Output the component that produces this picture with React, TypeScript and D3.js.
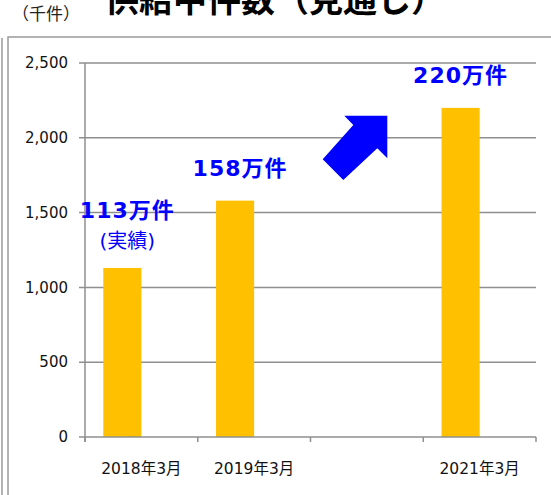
import React from "react";
import * as d3 from "d3";

const categories = ["2018年3月", "2019年3月", "", "2021年3月"];
const values: (number | null)[] = [1130, 1580, null, 2200];
const valueLabels = ["113万件", "158万件", "", "220万件"];
const yTicks = [0, 500, 1000, 1500, 2000, 2500];
const title = "供給中件数（見通し）";
const unitLabel = "（千件）";

const W = 551;
const H = 495;
const plot = { left: 85, right: 536, top: 63, bottom: 437 };
const font = "'DejaVu Sans', 'Noto Sans CJK JP', sans-serif";
const cjk = "'Noto Sans CJK JP', 'DejaVu Sans', sans-serif";
const gridColor = "#8f8f8f";
const blue = "#0000FF";
const barColor = "#FFC000";

export default function App() {
  const x = d3
    .scaleBand<number>()
    .domain(d3.range(categories.length))
    .range([plot.left, plot.right])
    .paddingInner(0)
    .paddingOuter(0);
  // clustered layout with an empty second series slot
  const inner = d3
    .scaleBand<number>()
    .domain([0, 1])
    .range([0, x.bandwidth()])
    .paddingInner(0)
    .paddingOuter(0.48);
  const y = d3.scaleLinear().domain([0, 2500]).range([plot.bottom, plot.top]);
  const fmt = d3.format(",");

  const arrow = "M387.3,115.7 L344.3,115.7 L353.3,125 L322.7,159.3 L343.3,180 L377.3,148.3 L387.3,158.3 Z";
  const barCenter = (i: number) =>
    (x(i) as number) + (inner(0) as number) + inner.bandwidth() / 2;

  return (
    <svg
      width={W}
      height={H}
      style={{ position: "absolute", left: 0, top: 0 }}
    >
      <rect x={0} y={0} width={W} height={H} fill="#fff" />
      {/* frames */}
      <line x1={2} y1={38} x2={2} y2={H} stroke="#999" strokeWidth={1.5} />
      <rect
        x={8}
        y={37}
        width={W}
        height={H}
        fill="none"
        stroke="#999"
        strokeWidth={1.5}
      />
      {/* title */}
      <text
        x={105}
        y={12}
        fontFamily={cjk}
        fontWeight="bold"
        fontSize={34}
        fill="#000"
      >
        {title}
      </text>
      <text x={12} y={20} fontFamily={cjk} fontSize={17} fill="#222">
        {unitLabel}
      </text>

      {/* gridlines */}
      {yTicks.map((t) => (
        <g key={t}>
          <line
            x1={plot.left - 6}
            x2={t === 0 ? plot.left : plot.right}
            y1={y(t)}
            y2={y(t)}
            stroke={gridColor}
            strokeWidth={1.5}
          />
          <text
            x={68}
            y={y(t)}
            dy="0.35em"
            textAnchor="end"
            fontFamily={font}
            fontSize={15}
            fill="#111"
          >
            {fmt(t)}
          </text>
        </g>
      ))}
      {/* bars */}
      {values.map((v, i) =>
        v == null ? null : (
          <rect
            key={i}
            x={(x(i) as number) + (inner(0) as number)}
            y={y(v)}
            width={inner.bandwidth()}
            height={y(0) - y(v)}
            fill={barColor}
          />
        )
      )}
      {/* axes */}
      <line
        x1={plot.left}
        x2={plot.left}
        y1={plot.top}
        y2={plot.bottom + 5}
        stroke={gridColor}
        strokeWidth={1.5}
      />
      <line
        x1={plot.left}
        x2={plot.right}
        y1={plot.bottom}
        y2={plot.bottom}
        stroke={gridColor}
        strokeWidth={1.5}
      />
      {d3.range(categories.length + 1).map((i) => {
        const xx = i < categories.length ? (x(i) as number) : plot.right;
        return (
          <line
            key={i}
            x1={xx}
            x2={xx}
            y1={plot.bottom}
            y2={plot.bottom + 5}
            stroke={gridColor}
            strokeWidth={1.5}
          />
        );
      })}
      {categories.map((c, i) => (
        <text
          key={i}
          x={(x(i) as number) + x.bandwidth() / 2}
          y={474}
          textAnchor="middle"
          fontFamily={font}
          fontSize={15.5}
          fill="#111"
        >
          {c}
        </text>
      ))}
      {/* value labels */}
      {values.map((v, i) =>
        v == null ? null : (
          <text
            key={i}
            x={barCenter(i) + (i === 3 ? 0 : 5)}
            y={i === 0 ? 218 : y(v) - 25}
            textAnchor="middle"
            fontFamily={font}
            fontWeight="bold"
            fontSize={22}
            letterSpacing={1}
            fill={blue}
          >
            {valueLabels[i]}
          </text>
        )
      )}
      <text
        x={barCenter(0) + 5}
        y={248}
        textAnchor="middle"
        fontFamily={font}
        fontSize={20}
        fill={blue}
      >
        (実績)
      </text>
      <path d={arrow} fill={blue} />
    </svg>
  );
}
